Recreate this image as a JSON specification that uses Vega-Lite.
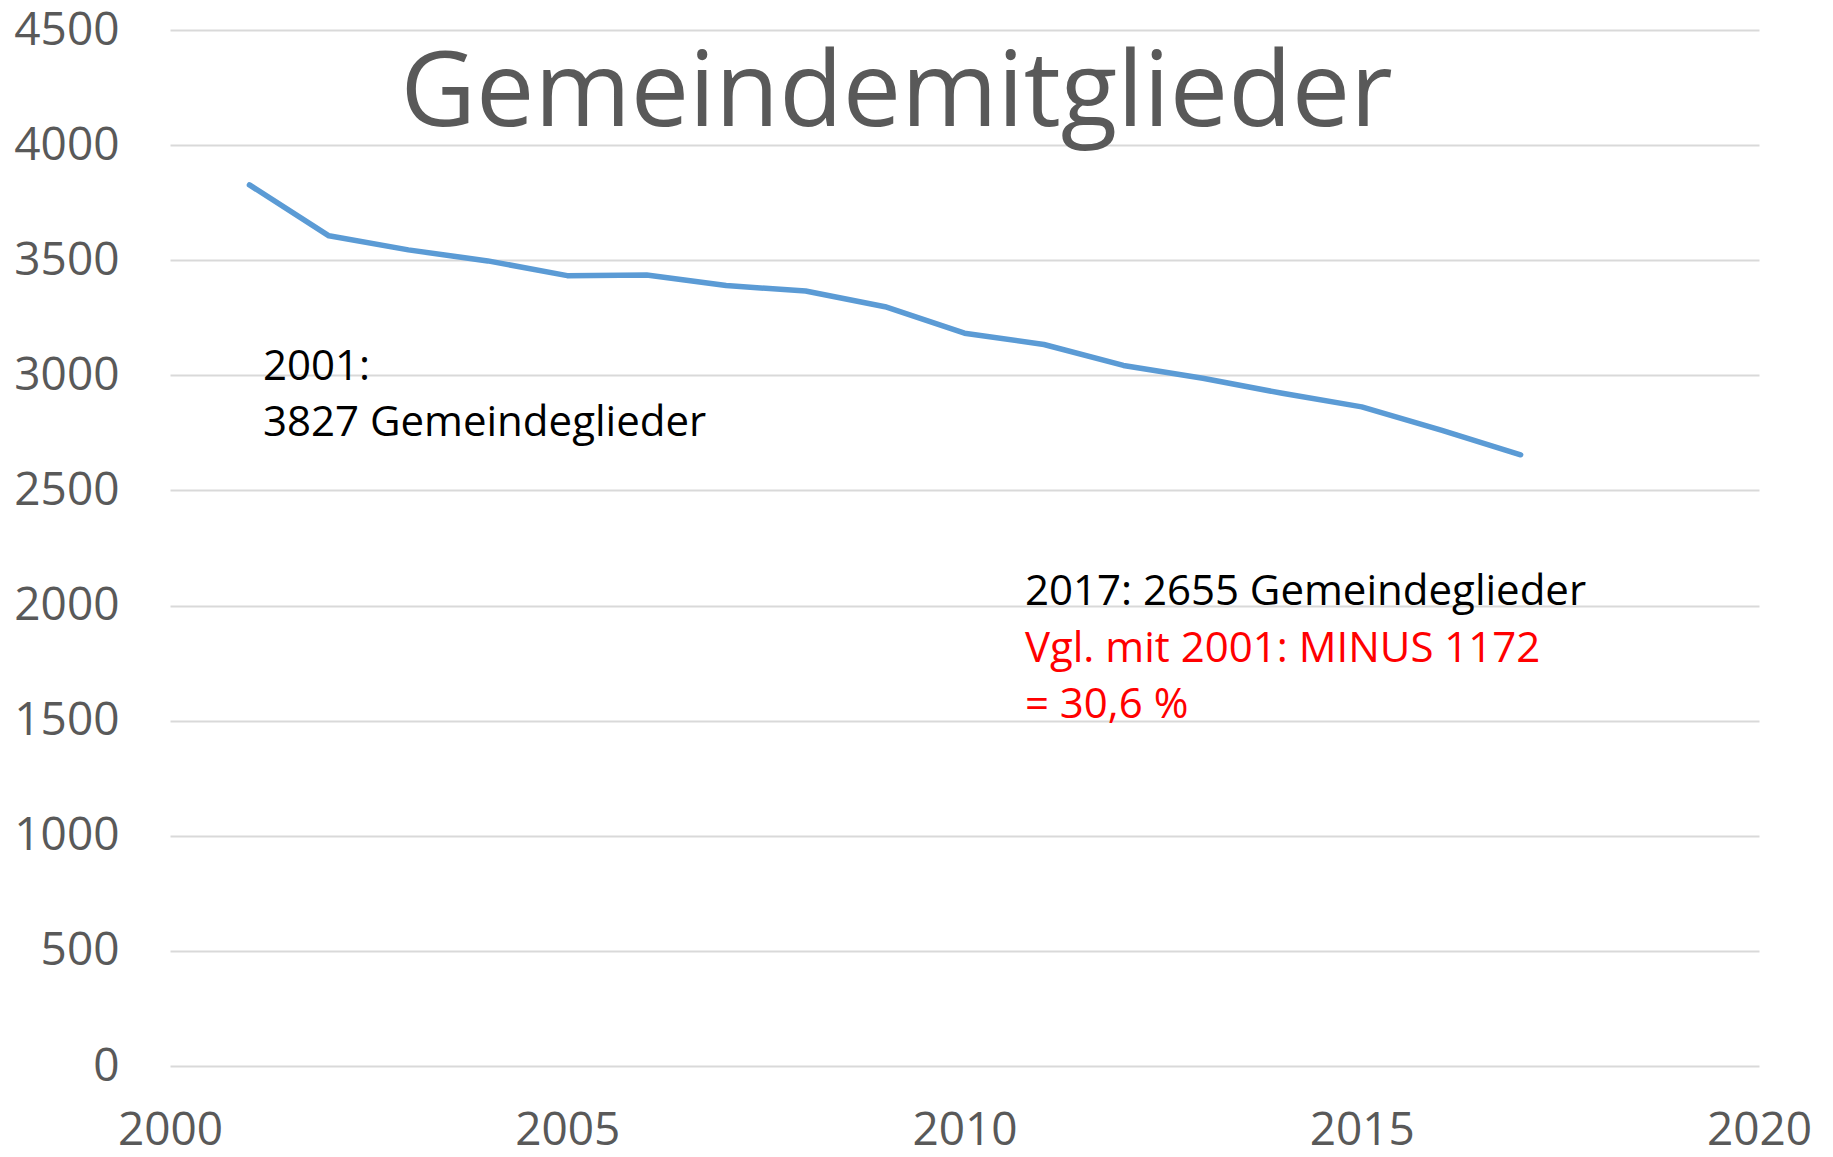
{
  "$schema": "https://vega.github.io/schema/vega-lite/v6.json",
  "autosize": "none",
  "width": 1589,
  "height": 1036,
  "padding": {"left": 170, "top": 30, "right": 74, "bottom": 91},
  "background": "white",
  "config": {
    "view": {"stroke": null},
    "axis": {
      "labelFont": "Open Sans",
      "labelFontSize": 46,
      "labelColor": "#595959",
      "ticks": false,
      "domain": false,
      "gridColor": "#d9d9d9",
      "gridWidth": 2,
      "title": null
    }
  },
  "datasets": {
    "members": [
      {"year": 2001, "members": 3827},
      {"year": 2002, "members": 3606},
      {"year": 2003, "members": 3545},
      {"year": 2004, "members": 3497},
      {"year": 2005, "members": 3433},
      {"year": 2006, "members": 3436},
      {"year": 2007, "members": 3390},
      {"year": 2008, "members": 3366},
      {"year": 2009, "members": 3298},
      {"year": 2010, "members": 3183},
      {"year": 2011, "members": 3134},
      {"year": 2012, "members": 3043},
      {"year": 2013, "members": 2987},
      {"year": 2014, "members": 2922},
      {"year": 2015, "members": 2863},
      {"year": 2016, "members": 2762},
      {"year": 2017, "members": 2655}
    ],
    "notes": [
      {"x": 2001.17, "y": 2980, "text": ["2001:", "3827 Gemeindeglieder"], "kind": "black"},
      {"x": 2010.76, "y": 2003, "text": ["2017: 2655 Gemeindeglieder"], "kind": "black"},
      {"x": 2010.76, "y": 1755, "text": ["Vgl. mit 2001: MINUS 1172", "= 30,6 %"], "kind": "red"}
    ],
    "heading": [
      {"x": 2002.9, "y": 4083, "text": "Gemeindemitglieder"}
    ]
  },
  "layer": [
    {
      "data": {"name": "members"},
      "mark": {"type": "line", "color": "#5b9bd5", "strokeWidth": 5.5, "strokeCap": "round", "strokeJoin": "round"},
      "encoding": {
        "x": {
          "field": "year",
          "type": "quantitative",
          "scale": {"domain": [2000, 2020], "nice": false, "zero": false},
          "axis": {"values": [2000, 2005, 2010, 2015, 2020], "format": "d", "grid": false, "labelPadding": 42, "labelFlush": false}
        },
        "y": {
          "field": "members",
          "type": "quantitative",
          "scale": {"domain": [0, 4500], "nice": false},
          "axis": {"values": [0, 500, 1000, 1500, 2000, 2500, 3000, 3500, 4000, 4500], "format": "d", "grid": true, "labelPadding": 51}
        }
      }
    },
    {
      "data": {"name": "heading"},
      "mark": {"type": "text", "font": "Open Sans", "fontSize": 104, "align": "left", "baseline": "alphabetic", "color": "#595959"},
      "encoding": {
        "x": {"field": "x", "type": "quantitative"},
        "y": {"field": "y", "type": "quantitative"},
        "text": {"field": "text"}
      }
    },
    {
      "data": {"name": "notes"},
      "mark": {"type": "text", "font": "Open Sans", "fontSize": 42, "align": "left", "baseline": "alphabetic", "lineHeight": 56},
      "encoding": {
        "x": {"field": "x", "type": "quantitative"},
        "y": {"field": "y", "type": "quantitative"},
        "text": {"field": "text"},
        "color": {
          "field": "kind",
          "type": "nominal",
          "scale": {"domain": ["black", "red"], "range": ["#000000", "#ff0000"]},
          "legend": null
        }
      }
    }
  ]
}
